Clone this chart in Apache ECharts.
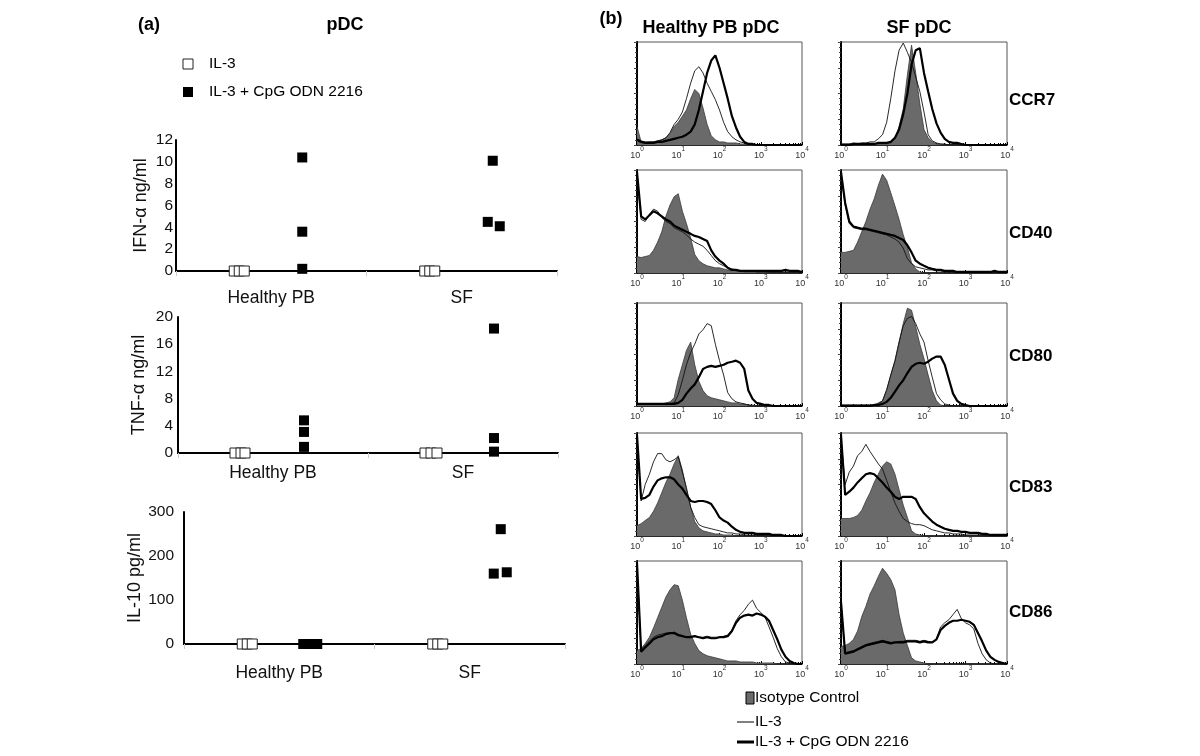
<!DOCTYPE html>
<html><head><meta charset="utf-8">
<script src="https://cdn.jsdelivr.net/npm/echarts@6/dist/echarts.min.js"></script>
<style>html,body{margin:0;padding:0;background:#fff}#c{width:1200px;height:756px}</style>
</head><body><div id="c"></div>
<script>
// ---------- Panel (a) data ----------
const categories = ['Healthy PB', 'SF'];
const ifnIL3  = [[0, 0, 0], [0, 0, 0]];
const ifnCpG  = [[10.4, 3.6, 0.2], [10.1, 4.5, 4.1]];
const tnfIL3  = [[0, 0, 0], [0, 0, 0]];
const tnfCpG  = [[4.8, 3.1, 0.9], [18.3, 2.2, 0.2]];
const il10IL3 = [[0, 0, 0], [0, 0, 0]];
const il10CpG = [[0, 0, 0], [261, 160, 163]];
const ifnTicks = [0, 12, 2];
const tnfTicks = [0, 20, 4];
const il10Ticks = [0, 300, 100];

// ---------- Panel (b) data ----------
const markers = ['CCR7', 'CD40', 'CD80', 'CD83', 'CD86'];
const bins = [1,1.26,1.58,2,2.51,3.16,3.98,5.01,6.31,7.94,10,12.6,15.8,20,25.1,31.6,39.8,50.1,63.1,79.4,100,126,158,200,251,316,398,501,631,794,1000,1259,1585,1995,2512,3162,3981,5012,6310,7943,10000];

const pbCCR7iso = [18,3,2,3,3,4,5,7,11,18, 22,28,34,45,54,50,36,20,9,5, 3,3,2,2,2,1,1,0,0,0, 0,0,0,0,0,0,0,0,0,0, 0];
const pbCCR7il3 = [6,4,3,3,3,4,5,7,12,20, 25,32,45,60,72,76,70,60,52,44, 34,22,13,8,5,3,2,1,0,0, 0,0,0,0,0,0,0,0,0,0, 0];
const pbCCR7cpg = [5,3,2,2,2,3,3,4,5,6, 7,8,10,13,20,34,52,70,82,87, 75,60,45,28,17,8,3,1,1,0, 0,0,0,0,0,0,0,0,0,0, 0];
const sfCCR7iso = [1,1,1,1,1,1,1,1,1,1, 1,1,2,6,18,35,68,97,70,40, 15,7,3,1,1,0,0,0,0,0, 0,0,0,0,0,0,0,0,0,0, 0];
const sfCCR7il3 = [1,1,1,2,1,2,2,3,3,6, 10,22,45,72,92,99,90,80,66,52, 32,10,4,2,1,1,0,0,0,0, 0,0,0,0,0,0,0,0,0,0, 0];
const sfCCR7cpg = [0,0,0,1,1,1,1,1,1,2, 2,2,3,7,15,30,50,78,92,94, 70,52,35,21,12,6,3,2,2,1, 0,0,0,0,0,0,0,0,0,0, 0];

const pbCD40iso = [16,15,16,17,22,30,40,55,66,74, 77,60,48,34,18,12,9,7,6,5, 5,4,3,3,2,2,1,1,1,1, 1,1,0,0,0,0,0,0,0,0, 0];
const pbCD40il3 = [95,52,50,57,62,60,54,50,48,44, 42,40,37,33,30,28,26,22,17,12, 9,7,5,4,3,2,2,2,2,1, 1,1,1,1,1,1,1,1,1,1, 1];
const pbCD40cpg = [98,55,52,56,60,58,55,52,50,46, 44,42,40,38,36,35,33,31,22,16, 12,9,5,3,3,2,2,2,2,2, 2,2,2,2,2,2,3,2,2,2, 1];
const sfCD40iso = [20,20,21,22,30,40,50,62,72,85, 96,90,78,65,52,37,25,10,4,1, 0,0,0,0,0,0,0,0,0,0, 0,0,0,0,0,0,0,0,0,0, 0];
const sfCD40il3 = [95,66,48,44,43,42,42,41,40,39, 38,37,35,33,30,24,14,9,6,5, 4,3,3,2,2,1,1,1,1,1, 1,1,1,1,1,1,1,1,1,1, 1];
const sfCD40cpg = [98,68,50,45,44,43,43,42,41,40, 39,38,37,36,34,32,27,20,12,9, 7,5,4,3,3,2,2,2,1,1, 1,1,1,1,1,1,1,2,1,1, 1];

const pbCD80iso = [2,2,2,2,2,2,2,3,4,8, 26,40,54,62,40,24,15,10,8,7, 6,5,4,3,3,2,2,1,1,0, 0,0,0,0,0,0,0,0,0,0, 0];
const pbCD80il3 = [2,2,2,2,2,2,2,2,2,3, 11,25,40,52,60,70,74,80,78,60, 44,30,13,7,4,3,2,1,0,0, 0,0,0,0,0,0,0,0,0,0, 0];
const pbCD80cpg = [2,2,2,2,2,2,2,2,2,2, 3,6,12,17,21,28,36,38,39,38, 39,40,42,43,44,42,36,15,7,3, 2,1,1,0,0,0,0,0,0,0, 0];
const sfCD80iso = [1,1,1,1,1,1,1,1,1,3, 5,15,30,44,62,80,95,93,77,60, 46,30,15,5,1,0,0,0,0,0, 0,0,0,0,0,0,0,0,0,0, 0];
const sfCD80il3 = [1,1,1,1,1,1,1,1,1,2, 5,16,30,44,62,78,85,87,80,70, 62,44,28,12,6,2,1,0,0,0, 0,0,0,0,0,0,0,0,0,0, 0];
const sfCD80cpg = [0,0,0,0,0,0,0,0,1,1, 2,4,8,14,20,25,32,38,41,42, 41,43,46,48,48,40,26,12,5,2, 1,0,0,0,0,0,0,0,0,0, 0];

const pbCD83iso = [10,12,15,18,24,32,42,52,60,70, 78,64,45,28,14,8,5,4,3,2, 2,1,1,1,0,0,0,0,0,0, 0,0,0,0,0,0,0,0,0,0, 0];
const pbCD83il3 = [96,34,50,60,72,80,80,74,72,74, 77,62,47,28,18,11,9,8,7,6, 5,4,3,3,2,2,1,1,1,1, 1,0,0,0,0,0,0,0,0,0, 0];
const pbCD83cpg = [98,36,37,40,48,54,56,57,57,55, 50,46,40,34,33,34,34,33,31,25, 18,15,13,9,6,4,3,3,3,2, 2,2,2,1,1,1,0,0,0,0, 0];
const sfCD83iso = [17,17,17,18,20,25,34,42,52,60, 68,72,70,60,45,30,18,5,2,1, 0,0,0,0,0,0,0,0,0,0, 0,0,0,0,0,0,0,0,0,0, 0];
const sfCD83il3 = [95,50,62,68,78,82,89,82,76,70, 65,54,43,32,24,17,14,12,11,11, 10,8,6,5,4,3,3,2,2,2, 1,1,1,1,1,0,0,0,0,0, 0];
const sfCD83cpg = [98,40,43,47,52,56,60,61,60,56, 52,47,43,38,36,38,38,38,36,28, 22,18,14,11,9,7,6,5,5,4, 4,3,3,3,2,2,1,1,1,1, 1];

const pbCD86iso = [13,15,20,26,35,45,55,65,72,77, 76,62,45,29,20,13,10,8,7,6, 5,4,3,3,3,2,2,2,2,1, 1,1,1,1,0,0,0,0,0,0, 0];
const pbCD86il3 = [98,14,18,22,26,28,29,30,30,31, 29,27,26,27,27,26,26,27,26,26, 26,27,28,33,42,48,52,58,62,54, 50,46,36,26,15,7,2,1,0,0, 0];
const pbCD86cpg = [98,12,16,20,24,26,27,29,30,30, 28,27,26,26,27,26,25,26,25,25, 26,26,27,32,40,45,47,48,47,49, 48,46,42,33,24,14,7,3,1,0, 0];
const sfCD86iso = [17,18,20,24,32,46,56,68,76,85, 93,88,82,72,48,30,18,6,3,2, 1,0,0,0,0,0,0,0,0,0, 0,0,0,0,0,0,0,0,0,0, 0];
const sfCD86il3 = [60,11,12,13,15,17,19,20,21,22, 23,22,21,21,22,22,23,23,23,22, 23,22,21,24,36,40,43,48,53,44, 40,38,34,20,10,4,1,0,0,0, 0];
const sfCD86cpg = [60,10,11,12,14,16,18,19,20,21, 22,21,20,21,21,21,22,22,22,21, 22,21,21,24,33,37,40,42,42,43, 42,41,38,30,22,13,7,4,2,1, 0];

const histos = [
  [pbCCR7iso, pbCCR7il3, pbCCR7cpg], [sfCCR7iso, sfCCR7il3, sfCCR7cpg],
  [pbCD40iso, pbCD40il3, pbCD40cpg], [sfCD40iso, sfCD40il3, sfCD40cpg],
  [pbCD80iso, pbCD80il3, pbCD80cpg], [sfCD80iso, sfCD80il3, sfCD80cpg],
  [pbCD83iso, pbCD83il3, pbCD83cpg], [sfCD83iso, sfCD83il3, sfCD83cpg],
  [pbCD86iso, pbCD86il3, pbCD86cpg], [sfCD86iso, sfCD86il3, sfCD86cpg]
];

// ---------- layout / style ----------
const FONT = '"Liberation Sans", Arial, sans-serif';
const aPanels = [
  {name: 'IFN-\u03b1 ng/ml', il3: ifnIL3, cpg: ifnCpG, ticks: ifnTicks, left: 176, top: 140, width: 381, height: 131, nameGap: 26, labelMargin: 3, catMargin: 18,
   jitIL3: [[-5,0,5],[-5,0,5]], jitCpG: [[0,0,0],[0,-5,7]]},
  {name: 'TNF-\u03b1 ng/ml', il3: tnfIL3, cpg: tnfCpG, ticks: tnfTicks, left: 178, top: 317, width: 380, height: 136, nameGap: 30, labelMargin: 5, catMargin: 11,
   jitIL3: [[-6,0,4],[-6,0,6]], jitCpG: [[0,0,0],[0,0,0]]},
  {name: 'IL-10 pg/ml', il3: il10IL3, cpg: il10CpG, ticks: il10Ticks, left: 184, top: 512, width: 381, height: 132, nameGap: 35, labelMargin: 10, catMargin: 20,
   jitIL3: [[-5,0,5],[-5,0,5]], jitCpG: [[-7,0,7],[0,-7,6]]}
];
const histLeft = [637, 841];
const histWidth = [165, 166];
const histTop = [42, 170, 303, 433, 561];
const histH = 103;

const grid = [], xAxis = [], yAxis = [], series = [];

aPanels.forEach((p, g) => {
  grid.push({left: p.left, top: p.top, width: p.width, height: p.height});
  xAxis.push({type: 'category', gridIndex: g, data: categories, boundaryGap: true,
    axisLine: {lineStyle: {color: '#000', width: 2}},
    axisTick: {show: true, length: 5, lineStyle: {color: '#ccc'}},
    axisLabel: {fontFamily: FONT, fontSize: 17.5, color: '#111', margin: p.catMargin},
    splitLine: {show: false}});
  xAxis.push({type: 'value', gridIndex: g, min: 0, max: 2, show: false});
  yAxis.push({type: 'value', gridIndex: g, min: p.ticks[0], max: p.ticks[1], interval: p.ticks[2],
    name: p.name, nameLocation: 'middle', nameGap: p.nameGap, nameRotate: 90,
    nameTextStyle: {fontFamily: FONT, fontSize: 18, color: '#111'},
    axisLine: {show: true, lineStyle: {color: '#000', width: 2}},
    axisTick: {show: false},
    axisLabel: {fontFamily: FONT, fontSize: 15.5, color: '#111', margin: p.labelMargin},
    splitLine: {show: false}});
  const unit = p.width / 2;
  const mk = (vals, base, jit) => {
    const out = [];
    vals.forEach((arr, ci) => arr.forEach((v, j) => out.push([ci + 0.5 + (base + jit[ci][j]) / unit, v])));
    return out;
  };
  series.push({type: 'scatter', xAxisIndex: 2 * g + 1, yAxisIndex: g, symbol: 'rect', symbolSize: 10,
    data: mk(p.il3, -32, p.jitIL3), itemStyle: {color: '#fff', borderColor: '#222', borderWidth: 1, opacity: 1}, z: 3});
  series.push({type: 'scatter', xAxisIndex: 2 * g + 1, yAxisIndex: g, symbol: 'rect', symbolSize: 10,
    data: mk(p.cpg, 31, p.jitCpG), itemStyle: {color: '#000', opacity: 1}, z: 4});
});

const supFmt = v => '{b|10}{s|' + Math.round(Math.log(v) / Math.LN10) + '}';
histos.forEach((h, k) => {
  const r = Math.floor(k / 2), c = k % 2;
  const gi = grid.length;
  grid.push({left: histLeft[c], top: histTop[r], width: histWidth[c], height: histH,
    show: true, borderColor: '#555', borderWidth: 1, backgroundColor: 'transparent'});
  const xi = xAxis.length, yi = yAxis.length;
  xAxis.push({type: 'log', logBase: 10, gridIndex: gi, min: 1, max: 10000, splitNumber: 4,
    axisLine: {lineStyle: {color: '#000', width: 1.5}},
    axisTick: {show: true, inside: true, length: 3, lineStyle: {color: '#000'}},
    minorTick: {show: true, splitNumber: 9, length: 2, lineStyle: {color: '#000'}},
    axisLabel: {formatter: supFmt, margin: 1, color: '#333',
      rich: {b: {fontFamily: FONT, fontSize: 9, lineHeight: 14, verticalAlign: 'bottom', color: '#333'},
             s: {fontFamily: FONT, fontSize: 6.5, lineHeight: 10, verticalAlign: 'top', color: '#333'}}},
    splitLine: {show: false}});
  yAxis.push({type: 'value', gridIndex: gi, min: 0, max: 100, interval: 25,
    axisLine: {show: true, lineStyle: {color: '#000', width: 2}},
    axisTick: {show: true, length: 3, lineStyle: {color: '#444'}},
    minorTick: {show: true, splitNumber: 5, length: 2, lineStyle: {color: '#444'}},
    axisLabel: {show: false}, splitLine: {show: false}});
  const toPts = arr => bins.map((b, i) => [b, arr[i]]);
  series.push({type: 'line', xAxisIndex: xi, yAxisIndex: yi, data: toPts(h[0]), symbol: 'none',
    lineStyle: {color: '#3a3a3a', width: 0.8}, areaStyle: {color: '#6a6a6a', opacity: 1}, z: 2});
  series.push({type: 'line', xAxisIndex: xi, yAxisIndex: yi, data: toPts(h[1]), symbol: 'none',
    lineStyle: {color: '#111', width: 0.9}, z: 3});
  series.push({type: 'line', xAxisIndex: xi, yAxisIndex: yi, data: toPts(h[2]), symbol: 'none',
    lineStyle: {color: '#000', width: 2.2}, z: 4});
});

const T = (text, x, y, size, bold, align) => ({type: 'text', x: x, y: y, z: 10,
  style: {text: text, font: (bold ? 'bold ' : '') + size + 'px ' + FONT, fill: '#000',
    textAlign: align || 'center', textVerticalAlign: 'middle'}});
const rowY = [100, 233, 356, 487, 612];
const graphic = [
  T('(a)', 149, 25, 18, true), T('pDC', 345, 25, 18, true),
  T('(b)', 611, 19, 18, true), T('Healthy PB pDC', 711, 28, 18, true), T('SF pDC', 919, 28, 18, true),
  {type: 'rect', shape: {x: 183, y: 59, width: 10, height: 10}, style: {fill: '#fff', stroke: '#222', lineWidth: 1}},
  T('IL-3', 209, 64, 15.5, false, 'left'),
  {type: 'rect', shape: {x: 183, y: 87, width: 10, height: 10}, style: {fill: '#000'}},
  T('IL-3 + CpG ODN 2216', 209, 92, 15.5, false, 'left'),
  {type: 'rect', shape: {x: 746, y: 692, width: 8, height: 12}, style: {fill: '#6a6a6a', stroke: '#000', lineWidth: 1}},
  T('Isotype Control', 755, 698, 15.5, false, 'left'),
  {type: 'line', shape: {x1: 737, y1: 722, x2: 754, y2: 722}, style: {stroke: '#000', lineWidth: 1}},
  T('IL-3', 755, 722, 15.5, false, 'left'),
  {type: 'line', shape: {x1: 737, y1: 742, x2: 754, y2: 742}, style: {stroke: '#000', lineWidth: 3}},
  T('IL-3 + CpG ODN 2216', 755, 742, 15.5, false, 'left')
];
markers.forEach((m, i) => graphic.push(T(m, 1009, rowY[i], 17, true, 'left')));

const chart = echarts.init(document.getElementById('c'), null, {renderer: 'canvas'});
chart.setOption({animation: false, backgroundColor: '#fff', grid, xAxis, yAxis, series, graphic});
</script></body></html>
